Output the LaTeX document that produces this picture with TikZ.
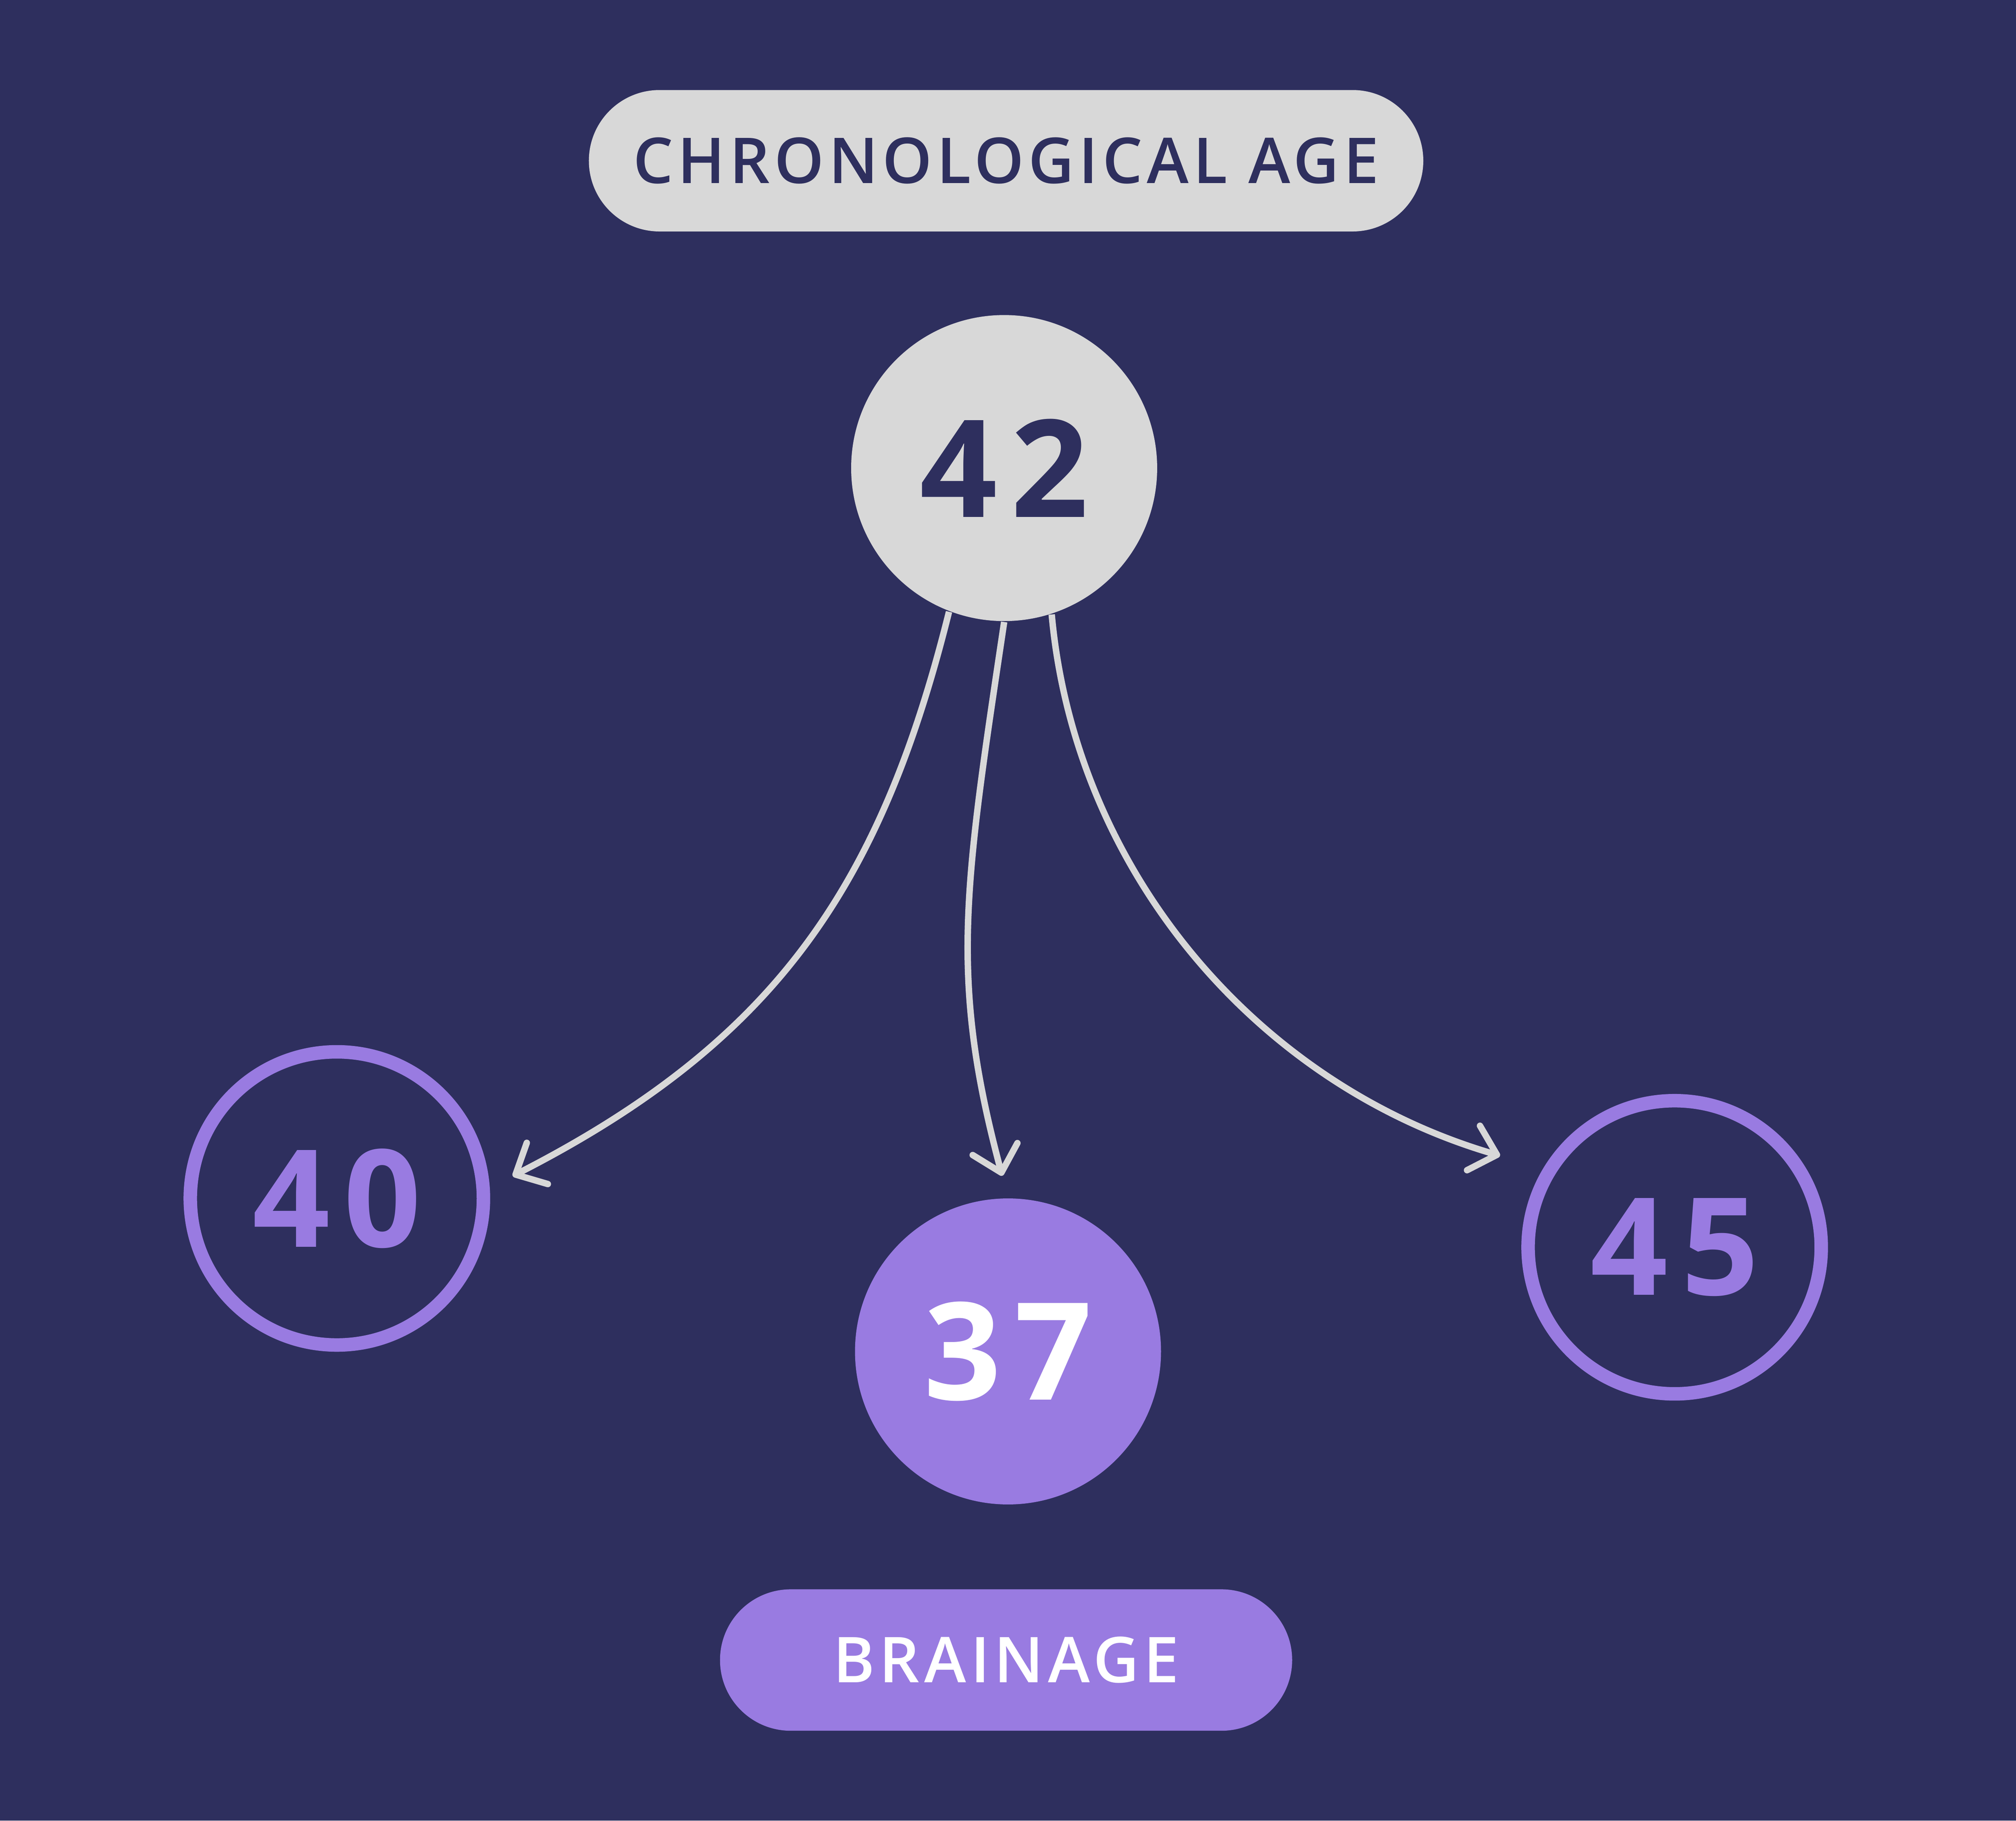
\documentclass[tikz,border=0pt]{standalone}
\usepackage{fontspec}
\setmainfont{Open Sans}
\newfontfamily\labelfont[LetterSpace=7]{Open Sans Semibold}
\newfontfamily\agefont[LetterSpace=10]{Open Sans}
\usetikzlibrary{arrows.meta}

\definecolor{navy}{HTML}{2E2F5E}
\definecolor{lightgrey}{HTML}{D8D8D8}
\definecolor{lilac}{HTML}{997BE1}

\begin{document}
\begin{tikzpicture}[
        agecircle/.style={circle, minimum size=2.38cm, inner sep=0pt, font=\agefont\fontsize{30}{36}\selectfont\bfseries},
        ring/.style={agecircle, minimum size=2.28cm, draw=lilac, line width=0.105cm, text=lilac},
        pill/.style={rounded corners=0.55cm, minimum height=1.1cm, inner sep=0pt, font=\labelfont\fontsize{14}{17}\selectfont},
        link/.style={draw=lightgrey, line width=0.05cm, -{Straight Barb[length=0.19cm,width=0.36cm,round]}}
    ]
        \fill[navy] (0,0) rectangle (15.68,-14.16);

        \node[pill, fill=lightgrey, text=navy, minimum width=6.49cm] (chrono) at (7.825,-1.25) {CHRONOLOGICAL AGE};
        \node[agecircle, fill=lightgrey, text=navy] (c42) at (7.81,-3.64) {42};
        \node[ring] (c40) at (2.62,-9.32) {40};
        \node[agecircle, fill=lilac, text=white] (c37) at (7.84,-10.51) {37};
        \node[ring] (c45) at (13.025,-9.70) {45};
        \node[pill, fill=lilac, text=white, minimum width=4.45cm] (brain) at (7.825,-12.91) {BRAINAGE};

        % curved links from the chronological age
        \draw[link, shorten >=0.2cm] (c42.-111) .. controls +(-0.53,-2.13) and +(2.23,1.14) .. (c40.4);
        \draw[link, shorten >=0.175cm] (c42.south) .. controls +(-0.31,-2.08) and +(-0.46,1.72) .. (c37.north);
        \draw[link, shorten >=0.35cm] (c42.-72) .. controls +(0.18,-1.99) and +(-2.23,0.65) .. (c45.149);

    \end{tikzpicture}
\end{document}
